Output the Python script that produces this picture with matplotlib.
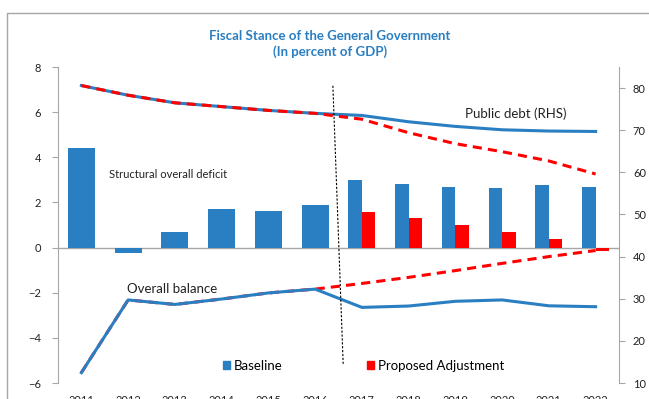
import numpy as np
import matplotlib
matplotlib.use("Agg")
import matplotlib.pyplot as plt
from matplotlib.patches import Patch, Rectangle

plt.rcParams['font.family'] = ['Lato', 'DejaVu Sans']

# --- data ---
years = [2011, 2012, 2013, 2014, 2015, 2016, 2017, 2018, 2019, 2020, 2021, 2022]
baseline_deficit = [4.4, -0.22, 0.68, 1.73, 1.64, 1.87, 2.98, 2.80, 2.67, 2.64, 2.77, 2.70]
proposed_deficit = [4.4, -0.22, 0.68, 1.73, 1.64, 1.87, 1.59, 1.29, 0.98, 0.68, 0.37, -0.17]
n_hist = 6  # 2011-2016 are actuals, drawn in baseline colour

balance_baseline = [-5.54, -2.32, -2.52, -2.28, -2.01, -1.84, -2.65, -2.59, -2.38, -2.32, -2.58, -2.62]
balance_proposed = [-5.54, -2.32, -2.52, -2.28, -2.01, -1.84, -1.59, -1.32, -1.02, -0.70, -0.40, -0.13]

debt_baseline = [80.6, 78.3, 76.5, 75.6, 74.7, 74.0, 73.5, 72.0, 70.9, 70.1, 69.8, 69.7]
debt_proposed = [80.6, 78.3, 76.5, 75.6, 74.7, 74.0, 72.6, 69.4, 66.8, 64.9, 62.7, 59.6]

BLUE = '#2A7FC2'
RED = '#FF0000'
GRAY = '#A6A6A6'
TXT = '#222222'

W, H = 649, 399
fig = plt.figure(figsize=(W / 100, H / 100), dpi=100)

# outer chart border (cut by the page edge)
fig.patches.append(Rectangle((7 / W, -0.1), 1.2, 1 - 13 / H + 0.1, transform=fig.transFigure,
                             fill=False, edgecolor=GRAY, linewidth=1.0))

ax = fig.add_axes([58 / W, 1 - 383 / H, (619 - 58) / W, (383 - 67) / H])
ax2 = ax.twinx()
ax.set_zorder(ax2.get_zorder() + 1)
ax.patch.set_visible(False)

x = np.arange(len(years))
bw = 0.29
bar_cols = [BLUE] * n_hist + [RED] * (len(years) - n_hist)
ax.bar(x - bw / 2, baseline_deficit, bw, color=BLUE, zorder=2)
ax.bar(x + bw / 2, proposed_deficit, bw, color=bar_cols, zorder=2)
ax.axhline(0, color=GRAY, linewidth=1.0, zorder=1)

# overall balance (left axis): red dashed under the blue
ax.plot(x, balance_proposed, color=RED, linewidth=2.2, dashes=(3, 2), zorder=3)
ax.plot(x, balance_baseline, color=BLUE, linewidth=2.2, zorder=4)

# public debt (right axis): red dashed over the blue
ax2.plot(x, debt_baseline, color=BLUE, linewidth=2.2, zorder=3)
ax2.plot(x, debt_proposed, color=RED, linewidth=2.2, dashes=(3, 2), zorder=4)

# slanted divider between actuals and projections
ax.plot([5.38, 5.6], [7.17, -5.16], color='black', linewidth=0.8, linestyle=(0, (2, 1.5)), zorder=5)

ax.set_xlim(-0.5, 11.5)
ax.set_ylim(-6, 8)
ax2.set_ylim(10, 85)
ax.set_yticks(range(-6, 9, 2))
ax2.set_yticks(range(10, 81, 10))
ax.set_xticks(x)
ax.set_xticklabels(years)

for a in (ax, ax2):
    for s in ('top', 'bottom'):
        a.spines[s].set_visible(False)
ax.spines['right'].set_visible(False)
ax2.spines['left'].set_visible(False)
ax.spines['left'].set_color(GRAY)
ax2.spines['right'].set_color(GRAY)

ax.tick_params(axis='y', length=4, color=GRAY, labelsize=8, pad=8, labelcolor=TXT)
ax2.tick_params(axis='y', length=4, color=GRAY, labelsize=8, pad=6, labelcolor=TXT)
ax.tick_params(axis='x', length=0, labelsize=8, pad=9, labelcolor=TXT)

fig.text(330 / W, 1 - 36 / H, 'Fiscal Stance of the General Government', color=BLUE,
         fontsize=9.5, fontweight='bold', ha='center', va='center')
fig.text(330 / W, 1 - 52 / H, '(In percent of GDP)', color=BLUE,
         fontsize=9.5, fontweight='bold', ha='center', va='center')

ax.text(0.6, 3.25, 'Structural overall deficit', fontsize=8, color=TXT, va='center')
ax.text(8.2, 5.95, 'Public debt (RHS)', fontsize=9.5, color=TXT, va='center')
ax.text(0.98, -1.85, 'Overall balance', fontsize=9.5, color=TXT, va='center')

handles = [Patch(color=BLUE), Patch(color=RED)]
ax.legend(handles, ['Baseline', 'Proposed Adjustment'], ncol=2, frameon=False,
          loc='center', bbox_to_anchor=(0.545, 0.055), fontsize=9.5,
          handlelength=0.55, handleheight=0.55, handletextpad=0.3, columnspacing=6.4)

fig.savefig('out.png', dpi=100)
